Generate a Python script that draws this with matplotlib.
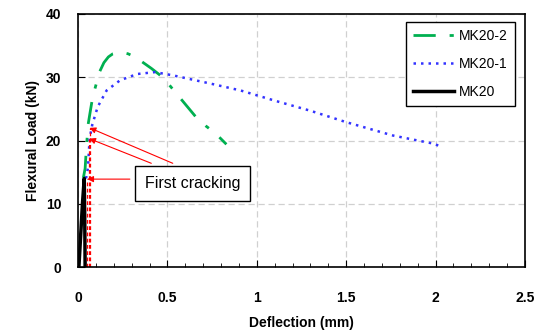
import matplotlib
matplotlib.use('Agg')
import matplotlib.pyplot as plt
import numpy as np

plt.rcParams['font.family'] = ['Liberation Sans', 'DejaVu Sans']

# MK20-2 (green dash-dot)
MK202x = [0.03, 0.04, 0.045, 0.056, 0.067, 0.08, 0.095, 0.12, 0.145, 0.17, 0.195, 0.22, 0.25, 0.28, 0.32, 0.36, 0.41, 0.46, 0.51, 0.56, 0.61, 0.66, 0.715, 0.77, 0.83]
MK202y = [14.1, 15.6, 17.9, 22.4, 24.3, 26.5, 28.2, 30.8, 32.3, 33.2, 33.7, 33.9, 33.9, 33.7, 33.2, 32.4, 31.4, 30.3, 28.8, 27.1, 25.4, 23.7, 22.3, 21.1, 19.4]

# MK20-1 (blue dotted)
MK201x = [0.045, 0.056, 0.065, 0.08, 0.11, 0.16, 0.235, 0.33, 0.43, 0.53, 0.74, 0.91, 1.1, 1.3, 1.5, 1.76, 1.9, 1.99, 2.04]
MK201y = [14.0, 15.7, 20.3, 22.5, 25.3, 27.9, 29.5, 30.5, 30.8, 30.3, 29.0, 27.9, 26.3, 24.7, 22.9, 20.8, 20.0, 19.5, 18.9]

# MK20 (black solid)
MK20x = [0.005, 0.015, 0.025, 0.035, 0.038, 0.04]
MK20y = [0.0, 5.0, 10.0, 14.0, 7.0, 0.0]

# first cracking points
crackx = [0.065, 0.063, 0.052]
cracky = [22.0, 20.3, 13.9]

fig = plt.figure(figsize=(5.48, 3.31), dpi=100)
ax = plt.axes([0.1423, 0.193, 0.8157, 0.765])

ax.grid(True, color='#d0d0d0', linestyle=(0, (5, 3)), linewidth=0.9)
ax.set_axisbelow(True)

ax.plot(MK202x, MK202y, c='#00b050', linestyle=(0, (8, 5, 1.5, 5)), linewidth=2, label='MK20-2')
ax.plot(MK201x, MK201y, c='#3333ff', linestyle=(0, (1, 2)), linewidth=1.8, label='MK20-1')
ax.plot(MK20x, MK20y, c='black', linestyle='solid', linewidth=2.5, label='MK20')

# dashed verticals down from the cracking points
for cx, cy in zip(crackx, cracky):
    ax.plot([cx, cx], [0, cy], c='red', linestyle=(0, (3, 2)), linewidth=0.9)

# arrows from label box to the points
starts = [(0.53, 16.4), (0.41, 16.4), (0.29, 13.9)]
for (sx, sy), cx, cy in zip(starts, crackx, cracky):
    ax.annotate('', xy=(cx, cy), xytext=(sx, sy),
                arrowprops=dict(arrowstyle='-|>', color='red', lw=0.8,
                                mutation_scale=9, shrinkA=0, shrinkB=0))

ax.text(0.64, 13.2, 'First cracking', fontsize=11.5, ha='center', va='center',
        bbox=dict(boxstyle='square,pad=0.6', fc='white', ec='black', lw=1))

ax.set_xlim(0, 2.5)
ax.set_ylim(0, 40)
ax.set_xticks([0, 0.5, 1, 1.5, 2, 2.5])
ax.set_xticklabels(['0', '0.5', '1', '1.5', '2', '2.5'])
ax.set_xticks(np.arange(0, 2.51, 0.1), minor=True)
ax.set_yticks([0, 10, 20, 30, 40])
ax.tick_params(axis='x', which='both', direction='in', top=False, labelsize=10, pad=17)
ax.tick_params(axis='x', which='major', length=5)
ax.tick_params(axis='x', which='minor', length=3)
ax.tick_params(axis='y', which='major', direction='in', length=5, labelsize=10, pad=12)
for lab in ax.get_xticklabels() + ax.get_yticklabels():
    lab.set_fontweight('bold')
for sp in ax.spines.values():
    sp.set_linewidth(1.2)

ax.set_xlabel('Deflection (mm)', fontsize=10, fontweight='bold', labelpad=8)
ax.set_ylabel('Flexural Load (kN)', fontsize=10, fontweight='bold')

leg = ax.legend(loc='upper right', fontsize=10, fancybox=False, framealpha=1,
                edgecolor='black', handlelength=3.0, borderpad=0.5, labelspacing=1.0,
                handletextpad=0.35, borderaxespad=0, bbox_to_anchor=(0.978, 0.968))
leg.get_frame().set_linewidth(1)

plt.savefig('out.png', dpi=100)
